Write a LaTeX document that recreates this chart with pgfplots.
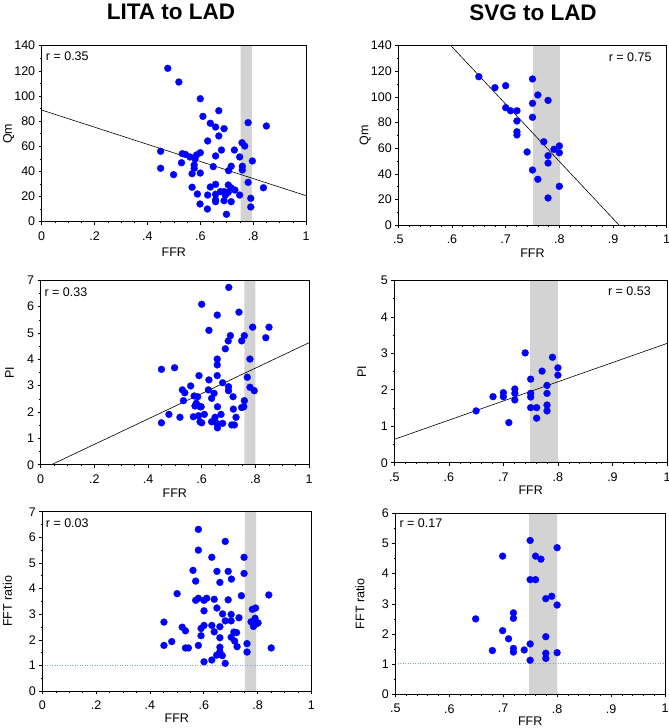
\documentclass[border=0pt]{standalone}
\usepackage{fontspec}
\setmainfont{Liberation Sans}
\usepackage{pgfplots}
\pgfplotsset{compat=1.18}

\definecolor{bandgray}{RGB}{211,211,211}
\definecolor{refline}{RGB}{130,160,210}

\pgfplotsset{
  panel/.style={
    scale only axis,
    anchor=south west,
    axis on top,
    axis line style={black, line width=0.5pt},
    tick align=outside,
    xtick pos=left, ytick pos=left,
    major tick length=3pt, minor tick length=1.8pt,
    every tick/.style={black, line width=0.5pt},
    minor y tick num=1,
    tick label style={font=\fontsize{12.5}{14}\selectfont},
    xticklabel style={yshift=-3.5pt},
    label style={font=\fontsize{12.5}{14}\selectfont},
    /pgf/number format/assume math mode=true,
    xlabel={FFR},
    xlabel style={at={([yshift=-29pt]axis description cs:0.5,0)}, anchor=center},
    ylabel style={at={([xshift=-33pt]axis description cs:0,0.5)}, anchor=center},
  },
  leftx/.style={xmin=0, xmax=1, xtick={0,0.2,0.4,0.6,0.8,1},
    xticklabels={0,.2,.4,.6,.8,1}, minor x tick num=3},
  rightx/.style={xmin=0.5, xmax=1, xtick={0.5,0.6,0.7,0.8,0.9,1},
    xticklabels={.5,.6,.7,.8,.9,1}, minor x tick num=4},
  dots/.style={only marks, mark=*, mark size=3.5pt, color=blue,
    mark options={fill=blue, draw=blue, line width=0.2pt}},
  band/.style={fill=bandgray, draw=none},
  fit/.style={black, line width=0.6pt, no marks},
  unity/.style={refline, dotted, line width=0.5pt, no marks},
}

\newcommand{\rfont}{\fontsize{12.5}{14}\selectfont}

\begin{document}
\begin{tikzpicture}
\path[use as bounding box] (0,0) rectangle (669pt,728pt);

\node[font=\fontsize{22.5}{27}\selectfont\bfseries, inner sep=0pt] at (171pt,715.7pt) {LITA to LAD};
\node[font=\fontsize{22.5}{27}\selectfont\bfseries, inner sep=0pt] at (533pt,715.7pt) {SVG to LAD};

% LITA: Qm
\begin{axis}[panel, leftx, at={(41.7pt,506.3pt)}, width=264.3pt, height=176pt,
  ymin=0, ymax=140, ytick={0,20,...,140}, ylabel={Qm},
  xlabel style={at={([yshift=-31pt]axis description cs:0.5,0)}}]
  \addplot[band] coordinates {(0.753,0) (0.753,140) (0.795,140) (0.795,0)} \closedcycle;
  \addplot[fit] coordinates {(0,88.8) (1,20.7)};
  \addplot[dots] coordinates {
    (0.477,122.0) (0.519,111.1) (0.600,97.8) (0.670,88.3) (0.610,83.8)
    (0.638,78.3) (0.658,75.3) (0.690,74.0) (0.781,78.8) (0.850,76.1)
    (0.670,68.2) (0.628,64.2) (0.758,62.8) (0.768,60.2) (0.680,57.0)
    (0.729,57.0) (0.450,56.0) (0.532,54.1) (0.544,53.5) (0.600,54.9)
    (0.586,53.1) (0.561,51.5) (0.658,52.3) (0.580,49.9) (0.749,51.5)
    (0.797,48.3) (0.529,46.9) (0.577,45.1) (0.577,42.5) (0.649,43.8)
    (0.717,44.1) (0.759,44.1) (0.759,41.1) (0.707,40.6) (0.450,42.5)
    (0.499,37.4) (0.569,38.2) (0.600,38.7) (0.781,31.3) (0.839,27.0)
    (0.569,27.4) (0.589,22.0) (0.638,27.6) (0.658,29.7) (0.628,21.2)
    (0.658,21.8) (0.676,23.9) (0.690,23.9) (0.706,29.2) (0.716,27.0)
    (0.731,25.2) (0.749,21.2) (0.706,23.4) (0.695,21.2) (0.658,15.9)
    (0.658,17.4) (0.690,16.7) (0.717,15.9) (0.599,14.1) (0.627,10.1)
    (0.699,5.9) (0.791,18.6) (0.791,11.7)
  };
  \node[anchor=north west, inner sep=0pt, font=\rfont] at ([xshift=4pt,yshift=-6pt]rel axis cs:0,1) {r = 0.35};
\end{axis}

% SVG: Qm
\begin{axis}[panel, rightx, at={(398.3pt,503pt)}, width=268.4pt, height=179.3pt,
  ymin=0, ymax=140, ytick={0,20,...,140}, ylabel={Qm},
  xlabel style={at={([yshift=-28pt]axis description cs:0.5,0)}}]
  \addplot[band] coordinates {(0.751,0) (0.751,140) (0.801,140) (0.801,0)} \closedcycle;
  \addplot[fit] coordinates {(0.59,143.6) (0.92,-4.0)};
  \addplot[dots] coordinates {
    (0.650,115.8) (0.680,107.2) (0.700,108.8) (0.750,114.0) (0.760,101.5)
    (0.779,97.3) (0.750,95.0) (0.700,91.6) (0.709,89.2) (0.721,89.2)
    (0.750,84.1) (0.721,81.2) (0.721,72.8) (0.721,70.3) (0.771,65.0)
    (0.740,57.0) (0.790,59.1) (0.800,61.7) (0.800,56.4) (0.779,54.1)
    (0.779,48.4) (0.750,42.9) (0.760,35.7) (0.800,30.2) (0.779,21.1)
  };
  \node[anchor=north east, inner sep=0pt, font=\rfont] at ([xshift=-15pt,yshift=-6.5pt]rel axis cs:1,1) {r = 0.75};
\end{axis}

% LITA: PI
\begin{axis}[panel, leftx, at={(40.7pt,263.3pt)}, width=268.3pt, height=184.4pt,
  ymin=0, ymax=7, ytick={0,1,...,7}, ylabel={PI},
  ylabel style={at={([xshift=-31pt]axis description cs:0,0.5)}}]
  \addplot[band] coordinates {(0.759,0) (0.759,7) (0.800,7) (0.800,0)} \closedcycle;
  \addplot[fit] coordinates {(0.04,0) (1,4.63)};
  \addplot[dots] coordinates {
    (0.701,6.73) (0.600,6.09) (0.658,5.68) (0.739,5.79) (0.627,5.10)
    (0.790,5.22) (0.851,5.22) (0.839,4.82) (0.707,4.90) (0.699,4.70)
    (0.759,4.90) (0.749,4.70) (0.688,4.40) (0.658,4.01) (0.658,3.79)
    (0.780,4.01) (0.450,3.62) (0.499,3.68) (0.590,3.38) (0.658,3.38)
    (0.627,3.22) (0.770,3.32) (0.678,3.11) (0.559,2.99) (0.528,2.84)
    (0.537,2.73) (0.625,2.84) (0.646,2.71) (0.637,2.52) (0.700,2.96)
    (0.700,2.81) (0.717,2.58) (0.780,2.94) (0.796,2.81) (0.572,2.61)
    (0.585,2.58) (0.532,2.43) (0.575,2.23) (0.594,2.20) (0.580,2.33)
    (0.659,2.20) (0.718,2.11) (0.759,2.43) (0.757,2.20) (0.749,2.17)
    (0.478,1.91) (0.519,1.80) (0.450,1.59) (0.569,1.82) (0.588,1.86)
    (0.610,1.91) (0.594,1.63) (0.600,1.59) (0.650,1.80) (0.672,1.91)
    (0.637,1.63) (0.656,1.57) (0.659,1.40) (0.678,1.57) (0.712,1.51)
    (0.722,1.51) (0.728,1.80) (0.598,2.20)
  };
  \node[anchor=north west, inner sep=0pt, font=\rfont] at ([xshift=3.6pt,yshift=-7pt]rel axis cs:0,1) {r = 0.33};
\end{axis}

% SVG: PI
\begin{axis}[panel, rightx, at={(394.3pt,265.3pt)}, width=272.7pt, height=182.4pt,
  ymin=0, ymax=5, ytick={0,1,...,5}, ylabel={PI},
  ylabel style={at={([xshift=-32.6pt]axis description cs:0,0.5)}},
  xlabel style={at={([yshift=-27.3pt]axis description cs:0.5,0)}}]
  \addplot[band] coordinates {(0.749,0) (0.749,5) (0.800,5) (0.800,0)} \closedcycle;
  \addplot[fit] coordinates {(0.5,0.64) (1,3.27)};
  \addplot[dots] coordinates {
    (0.740,3.01) (0.790,2.89) (0.800,2.60) (0.800,2.40) (0.771,2.51)
    (0.750,2.29) (0.780,2.12) (0.780,1.90) (0.780,1.58) (0.780,1.42)
    (0.761,1.51) (0.750,1.51) (0.761,1.22) (0.750,1.90) (0.750,1.80)
    (0.721,2.02) (0.721,1.90) (0.721,1.72) (0.700,1.92) (0.700,1.81)
    (0.681,1.81) (0.650,1.42) (0.710,1.10)
  };
  \node[anchor=north east, inner sep=0pt, font=\rfont] at ([xshift=-16pt,yshift=-6pt]rel axis cs:1,1) {r = 0.53};
\end{axis}

% LITA: FFT ratio
\begin{axis}[panel, leftx, at={(42.4pt,37pt)}, width=268.9pt, height=179.3pt,
  ymin=0, ymax=7, ytick={0,1,...,7}, ylabel={FFT ratio},
  ylabel style={at={([xshift=-35pt]axis description cs:0,0.5)}},
  xlabel style={at={([yshift=-27.5pt]axis description cs:0.5,0)}}]
  \addplot[band] coordinates {(0.753,0) (0.753,7) (0.795,7) (0.795,0)} \closedcycle;
  \addplot[unity] coordinates {(0,1) (1,1)};
  \addplot[dots] coordinates {
    (0.580,6.31) (0.680,5.84) (0.580,5.50) (0.630,5.22) (0.750,5.22)
    (0.560,4.71) (0.649,4.67) (0.691,4.67) (0.750,4.59) (0.570,4.29)
    (0.660,4.24) (0.703,4.37) (0.501,3.80) (0.740,3.72) (0.842,3.75)
    (0.580,3.62) (0.570,3.54) (0.611,3.62) (0.601,3.54) (0.639,3.58)
    (0.691,3.56) (0.601,3.13) (0.649,3.24) (0.670,3.01) (0.702,2.99)
    (0.731,2.86) (0.781,3.19) (0.793,3.24) (0.791,2.84) (0.776,2.70)
    (0.785,2.52) (0.795,2.62) (0.802,2.66) (0.452,2.69) (0.680,2.74)
    (0.702,2.74) (0.520,2.49) (0.532,2.35) (0.590,2.44) (0.601,2.56)
    (0.630,2.56) (0.660,2.51) (0.639,2.31) (0.590,2.16) (0.660,2.08)
    (0.702,2.10) (0.712,2.30) (0.722,2.28) (0.715,1.95) (0.452,1.78)
    (0.481,1.93) (0.532,1.68) (0.543,1.68) (0.580,1.78) (0.660,1.71)
    (0.724,1.73) (0.761,1.85) (0.761,1.52) (0.851,1.68) (0.660,1.53)
    (0.648,1.40) (0.669,1.38) (0.630,1.21) (0.601,1.14) (0.680,1.08)
  };
  \node[anchor=north west, inner sep=0pt, font=\rfont] at ([xshift=3.3pt,yshift=-7pt]rel axis cs:0,1) {r = 0.03};
\end{axis}

% SVG: FFT ratio
\begin{axis}[panel, rightx, at={(395.3pt,33.7pt)}, width=269.7pt, height=181pt,
  ymin=0, ymax=6, ytick={0,1,...,6}, ylabel={FFT ratio},
  ylabel style={at={([xshift=-35.3pt]axis description cs:0,0.5)}},
  xlabel style={at={([yshift=-26.5pt]axis description cs:0.5,0)}}]
  \addplot[band] coordinates {(0.748,0) (0.748,6) (0.800,6) (0.800,0)} \closedcycle;
  \addplot[unity] coordinates {(0.5,1.03) (1,1.03)};
  \addplot[dots] coordinates {
    (0.750,5.10) (0.800,4.86) (0.699,4.58) (0.760,4.58) (0.770,4.48)
    (0.750,3.80) (0.760,3.80) (0.779,3.17) (0.790,3.25) (0.800,2.96)
    (0.719,2.70) (0.719,2.52) (0.649,2.50) (0.699,2.11) (0.710,1.84)
    (0.779,1.91) (0.750,1.67) (0.680,1.45) (0.719,1.52) (0.719,1.40)
    (0.739,1.47) (0.779,1.36) (0.779,1.19) (0.800,1.38) (0.750,1.13)
  };
  \node[anchor=north west, inner sep=0pt, font=\rfont] at ([xshift=4pt,yshift=-5.7pt]rel axis cs:0,1) {r = 0.17};
\end{axis}
\end{tikzpicture}
\end{document}
